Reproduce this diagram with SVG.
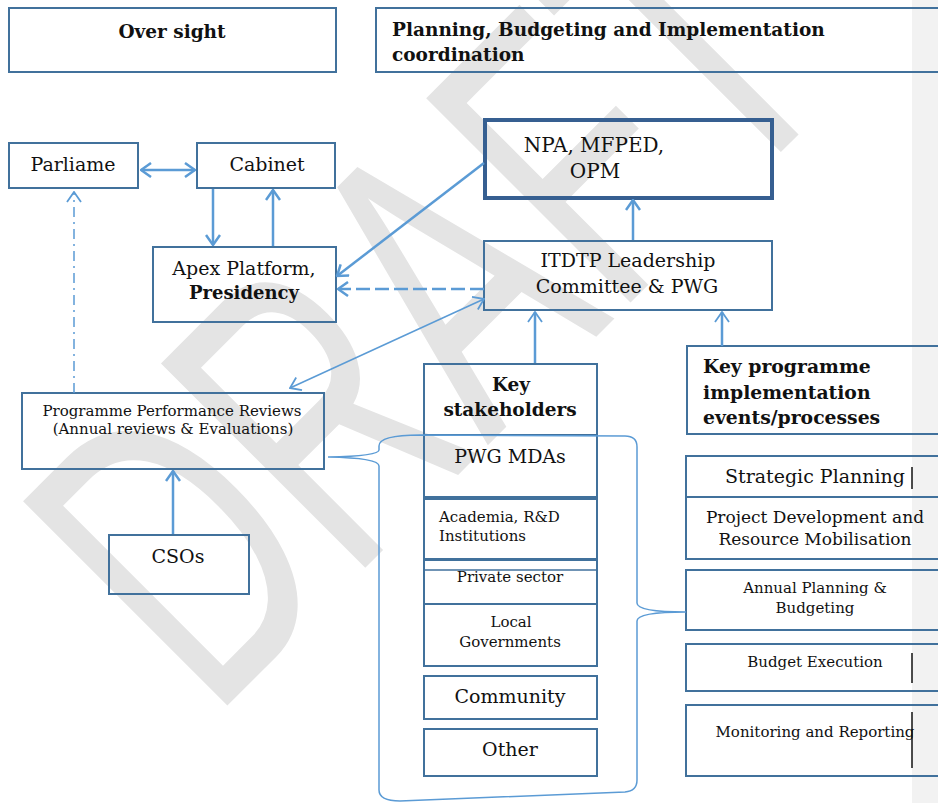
<svg xmlns="http://www.w3.org/2000/svg" width="938" height="803" viewBox="0 0 938 803">
<defs>
<style>
.box{fill:none;stroke:#41719c;stroke-width:2}
.thick{fill:none;stroke:#365f91;stroke-width:4}
.t{font-family:"DejaVu Serif","Liberation Serif",serif;fill:#111}
.b{font-weight:bold}
.c{text-anchor:middle}
.con{fill:none;stroke:#5b9bd5;stroke-width:2.5}
.thin{fill:none;stroke:#5b9bd5;stroke-width:1.5}
.cur{stroke:#111;stroke-width:1.5}
</style>
<marker id="ah" viewBox="0 0 12 16" refX="11" refY="8" markerWidth="12" markerHeight="16" markerUnits="userSpaceOnUse" orient="auto-start-reverse">
<path d="M1,1 L11,8 L1,15" fill="none" stroke="#5b9bd5" stroke-width="2.5"/>
</marker>
<marker id="ahs" viewBox="0 0 12 16" refX="11" refY="8" markerWidth="12" markerHeight="16" markerUnits="userSpaceOnUse" orient="auto-start-reverse">
<path d="M1,1 L11,8 L1,15" fill="none" stroke="#5b9bd5" stroke-width="1.8"/>
</marker>
</defs>
<rect width="938" height="803" fill="#ffffff"/>
<rect x="912" y="0" width="26" height="803" fill="#f2f2f2"/>

<g id="watermark" transform="translate(240,693) rotate(-45)">
<text x="-40" y="0" font-family="Liberation Sans, Arial, sans-serif" font-size="420" textLength="900" lengthAdjust="spacingAndGlyphs" fill="#e4e4e4">DRAFT</text>
</g>

<g id="header-oversight">
<rect class="box" x="9" y="8" width="327" height="64"/>
<text class="t b c" x="172" y="38" font-size="18.5">Over sight</text>
</g>
<g id="header-planning">
<rect class="box" x="376" y="8" width="570" height="64"/>
<text class="t b" x="392" y="36" font-size="18.5">Planning, Budgeting and Implementation</text>
<text class="t b" x="392" y="61" font-size="18.5">coordination</text>
</g>

<g id="parliament">
<rect class="box" x="9" y="143" width="129" height="45"/>
<text class="t c" x="73" y="171" font-size="19">Parliame</text>
</g>
<g id="cabinet">
<rect class="box" x="197" y="143" width="138" height="45"/>
<text class="t c" x="267" y="171" font-size="19">Cabinet</text>
</g>
<g id="apex">
<rect class="box" x="153" y="247" width="183" height="75"/>
<text class="t c" x="244" y="275" font-size="19">Apex Platform,</text>
<text class="t b c" x="244" y="299" font-size="18">Presidency</text>
</g>
<g id="npa">
<rect class="thick" x="485" y="120" width="287" height="78"/>
<text class="t c" x="594" y="152" font-size="20">NPA, MFPED,</text>
<text class="t c" x="595" y="178" font-size="20">OPM</text>
</g>
<g id="itdtp">
<rect class="box" x="484" y="241" width="288" height="69"/>
<text class="t c" x="628" y="267" font-size="19">ITDTP Leadership</text>
<text class="t c" x="627" y="293" font-size="19">Committee &amp; PWG</text>
</g>
<g id="key-programme">
<rect class="box" x="687" y="346" width="260" height="88"/>
<text class="t b" x="703" y="373" font-size="18.8">Key programme</text>
<text class="t b" x="703" y="399" font-size="18.8">implementation</text>
<text class="t b" x="703" y="424" font-size="18.8">events/processes</text>
</g>
<g id="key-stakeholders">
<rect class="box" x="424" y="364" width="173" height="71"/>
<text class="t b c" x="511" y="391" font-size="18.5">Key</text>
<text class="t b c" x="510" y="416" font-size="18.5">stakeholders</text>
</g>
<g id="pwg-mdas">
<rect class="box" x="424" y="435" width="173" height="62"/>
<text class="t c" x="510" y="463" font-size="19">PWG MDAs</text>
</g>
<g id="academia">
<rect class="box" x="424" y="499" width="173" height="60"/>
<text class="t" x="439" y="522" font-size="15">Academia, R&amp;D</text>
<text class="t" x="439" y="541" font-size="15">Institutions</text>
</g>
<g id="private-sector">
<rect class="box" x="424" y="560" width="173" height="44"/>
<line x1="424" y1="570" x2="597" y2="570" stroke="#41719c" stroke-width="1.5"/>
<text class="t c" x="510" y="582" font-size="15">Private sector</text>
</g>
<g id="local-governments">
<rect class="box" x="424" y="604" width="173" height="62"/>
<text class="t c" x="511" y="627" font-size="15">Local</text>
<text class="t c" x="510" y="647" font-size="15">Governments</text>
</g>
<g id="community">
<rect class="box" x="424" y="676" width="173" height="43"/>
<text class="t c" x="510" y="703" font-size="19">Community</text>
</g>
<g id="other">
<rect class="box" x="424" y="729" width="173" height="47"/>
<text class="t c" x="510" y="756" font-size="19">Other</text>
</g>
<g id="programme-reviews">
<rect class="box" x="22" y="393" width="302" height="76"/>
<text class="t c" x="172" y="416" font-size="15">Programme Performance Reviews</text>
<text class="t c" x="173" y="434" font-size="15">(Annual reviews &amp; Evaluations)</text>
</g>
<g id="csos">
<rect class="box" x="109" y="535" width="140" height="59"/>
<text class="t c" x="178" y="563" font-size="19">CSOs</text>
</g>
<g id="strategic-planning">
<rect class="box" x="686" y="456" width="260" height="41"/>
<text class="t c" x="815" y="483" font-size="19">Strategic Planning</text>
<line class="cur" x1="912" y1="467" x2="912" y2="489"/>
</g>
<g id="project-development">
<rect class="box" x="686" y="497" width="260" height="62"/>
<text class="t c" x="815" y="523" font-size="17">Project Development and</text>
<text class="t c" x="815" y="545" font-size="17">Resource Mobilisation</text>
</g>
<g id="annual-planning">
<rect class="box" x="686" y="570" width="260" height="60"/>
<text class="t c" x="815" y="593" font-size="15">Annual Planning &amp;</text>
<text class="t c" x="815" y="613" font-size="15">Budgeting</text>
</g>
<g id="budget-execution">
<rect class="box" x="686" y="644" width="260" height="47"/>
<text class="t c" x="815" y="667" font-size="15">Budget Execution</text>
<line class="cur" x1="912" y1="653" x2="912" y2="683"/>
</g>
<g id="monitoring">
<rect class="box" x="686" y="705" width="260" height="71"/>
<text class="t c" x="815" y="737" font-size="15">Monitoring and Reporting</text>
<line class="cur" x1="912" y1="712" x2="912" y2="768"/>
</g>

<g id="connectors">
<line class="con" x1="141" y1="170" x2="195" y2="170" marker-start="url(#ah)" marker-end="url(#ah)"/>
<line class="con" x1="213" y1="189" x2="213" y2="245" marker-end="url(#ah)"/>
<line class="con" x1="273" y1="246" x2="273" y2="190" marker-end="url(#ah)"/>
<line class="con" x1="484" y1="163" x2="337" y2="276" marker-end="url(#ah)"/>
<line class="con" x1="484" y1="289" x2="338" y2="289" stroke-dasharray="14,5" stroke-width="3" marker-end="url(#ah)"/>
<line class="thin" x1="484" y1="299" x2="290" y2="388" marker-start="url(#ahs)" marker-end="url(#ahs)"/>
<line class="con" x1="633" y1="240" x2="633" y2="200" marker-end="url(#ah)"/>
<line class="con" x1="535" y1="363" x2="535" y2="312" stroke-width="2" marker-end="url(#ahs)"/>
<line class="con" x1="722" y1="346" x2="722" y2="312" stroke-width="2" marker-end="url(#ahs)"/>
<line class="thin" x1="74" y1="393" x2="74" y2="192" stroke-dasharray="10,5,2,5" marker-end="url(#ahs)"/>
<line class="con" x1="173" y1="534" x2="173" y2="471" marker-end="url(#ah)"/>
<path class="thin" d="M420,435 Q379,435 379,446 L379,450 Q379,456 328,457 Q379,458 379,466 L379,790 Q379,801 400,801 L625,792 Q637,791 637,780 L637,621 Q637,612 686,612 Q637,612 637,603 L637,447 Q637,436 625,436 Z"/>
</g>
</svg>
